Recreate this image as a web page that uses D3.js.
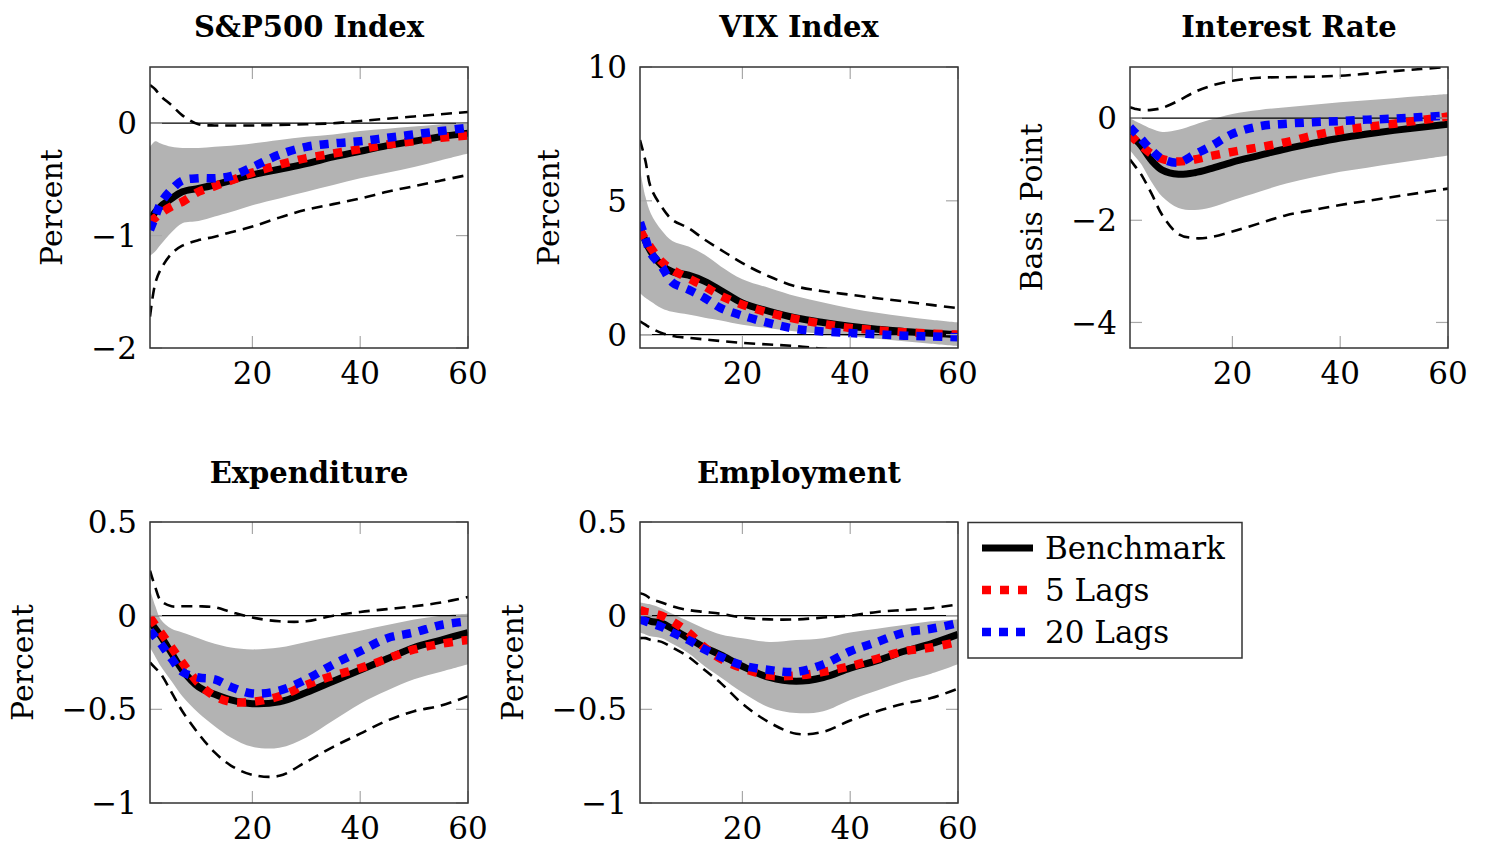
<!DOCTYPE html>
<html>
<head>
<meta charset="utf-8">
<script src="https://cdn.jsdelivr.net/npm/d3@7"></script>
<style>
  body { margin: 0; background: #fff; }
  svg text { font-family: 'DejaVu Serif', serif; fill: #000; }
</style>
</head>
<body>
<div id="chart"></div>
<script>
var horizon = [1, 2, 3, 5, 7, 10, 13, 16, 20, 25, 30, 35, 40, 45, 50, 55, 60];
var xTicks = [20, 40, 60];

var seriesNames = ["Benchmark", "5 Lags", "20 Lags"];

// S&P500 Index
var spBench  = [-0.86, -0.79, -0.74, -0.67, -0.61, -0.58, -0.55, -0.51, -0.46, -0.41, -0.36, -0.30, -0.25, -0.20, -0.16, -0.12, -0.09];
var spLag5   = [-0.88, -0.84, -0.80, -0.74, -0.70, -0.61, -0.56, -0.51, -0.44, -0.37, -0.31, -0.27, -0.23, -0.19, -0.16, -0.13, -0.11];
var spLag20  = [-0.95, -0.83, -0.71, -0.59, -0.51, -0.49, -0.49, -0.47, -0.39, -0.28, -0.21, -0.18, -0.16, -0.13, -0.10, -0.07, -0.04];
var spBandLo = [-1.18, -1.14, -1.08, -0.97, -0.89, -0.87, -0.83, -0.79, -0.73, -0.67, -0.61, -0.55, -0.49, -0.44, -0.39, -0.33, -0.27];
var spBandHi = [-0.21, -0.16, -0.18, -0.21, -0.22, -0.22, -0.21, -0.20, -0.18, -0.15, -0.12, -0.10, -0.07, -0.05, -0.03, -0.01, 0.01];
var spCiLo   = [-1.72, -1.42, -1.30, -1.16, -1.09, -1.04, -1.01, -0.97, -0.92, -0.84, -0.77, -0.72, -0.67, -0.61, -0.56, -0.51, -0.46];
var spCiHi   = [0.34, 0.30, 0.24, 0.16, 0.07, -0.01, -0.02, -0.02, -0.02, -0.015, -0.01, 0.00, 0.02, 0.04, 0.06, 0.08, 0.10];

// VIX Index
var vixBench  = [4.0, 3.5, 3.1, 2.6, 2.35, 2.22, 1.99, 1.65, 1.18, 0.87, 0.62, 0.45, 0.31, 0.20, 0.12, 0.05, 0.0];
var vixLag5   = [3.9, 3.55, 3.25, 2.73, 2.42, 2.1, 1.8, 1.45, 1.12, 0.81, 0.58, 0.40, 0.25, 0.16, 0.09, 0.04, 0.0];
var vixLag20  = [4.2, 3.6, 3.04, 2.55, 1.95, 1.68, 1.37, 0.99, 0.71, 0.43, 0.21, 0.12, 0.06, 0.01, -0.04, -0.07, -0.10];
var vixBandLo = [1.55, 1.38, 1.24, 0.99, 0.85, 0.75, 0.63, 0.53, 0.37, 0.24, 0.12, 0.03, -0.06, -0.15, -0.25, -0.34, -0.43];
var vixBandHi = [6.2, 5.16, 4.53, 3.9, 3.5, 3.29, 2.98, 2.55, 2.07, 1.74, 1.43, 1.20, 0.99, 0.82, 0.68, 0.56, 0.46];
var vixCiLo   = [0.5, 0.37, 0.25, 0.06, -0.05, -0.12, -0.18, -0.24, -0.31, -0.37, -0.43, -0.53, -0.60, -0.66, -0.72, -0.77, -0.82];
var vixCiHi   = [7.27, 6.5, 5.5, 4.78, 4.29, 3.98, 3.55, 3.17, 2.67, 2.17, 1.80, 1.62, 1.49, 1.36, 1.24, 1.11, 0.99];

// Interest Rate
var irBench  = [-0.31, -0.42, -0.53, -0.83, -1.02, -1.10, -1.07, -0.99, -0.86, -0.73, -0.60, -0.49, -0.39, -0.31, -0.24, -0.18, -0.12];
var irLag5   = [-0.34, -0.43, -0.53, -0.70, -0.80, -0.85, -0.81, -0.74, -0.66, -0.57, -0.47, -0.34, -0.24, -0.17, -0.11, -0.04, 0.03];
var irLag20  = [-0.18, -0.29, -0.40, -0.63, -0.80, -0.87, -0.71, -0.55, -0.31, -0.16, -0.11, -0.08, -0.06, -0.03, -0.01, 0.02, 0.05];
var irBandLo = [-0.63, -0.76, -0.89, -1.25, -1.54, -1.76, -1.80, -1.75, -1.61, -1.44, -1.28, -1.16, -1.05, -0.97, -0.89, -0.81, -0.73];
var irBandHi = [-0.01, -0.06, -0.11, -0.21, -0.27, -0.23, -0.13, -0.03, 0.08, 0.16, 0.21, 0.26, 0.31, 0.35, 0.39, 0.43, 0.47];
var irCiLo   = [-0.81, -0.95, -1.09, -1.48, -1.90, -2.27, -2.35, -2.33, -2.22, -2.06, -1.90, -1.80, -1.70, -1.62, -1.54, -1.46, -1.38];
var irCiHi   = [0.21, 0.18, 0.16, 0.16, 0.20, 0.34, 0.51, 0.63, 0.73, 0.79, 0.80, 0.81, 0.83, 0.87, 0.92, 0.96, 1.0];

// Expenditure
var expBench  = [-0.03, -0.07, -0.11, -0.20, -0.29, -0.38, -0.42, -0.45, -0.47, -0.46, -0.41, -0.35, -0.29, -0.23, -0.17, -0.13, -0.09];
var expLag5   = [-0.01, -0.05, -0.09, -0.17, -0.25, -0.36, -0.43, -0.46, -0.46, -0.43, -0.37, -0.32, -0.28, -0.23, -0.18, -0.15, -0.13];
var expLag20  = [-0.08, -0.115, -0.15, -0.23, -0.30, -0.33, -0.34, -0.38, -0.415, -0.40, -0.34, -0.26, -0.19, -0.12, -0.09, -0.05, -0.03];
var expBandLo = [-0.17, -0.22, -0.27, -0.35, -0.43, -0.52, -0.59, -0.65, -0.70, -0.705, -0.65, -0.56, -0.47, -0.40, -0.34, -0.30, -0.26];
var expBandHi = [0.14, 0.05, -0.02, -0.07, -0.09, -0.12, -0.15, -0.17, -0.18, -0.17, -0.14, -0.11, -0.08, -0.05, -0.02, 0.0, 0.01];
var expCiLo   = [-0.25, -0.28, -0.31, -0.41, -0.51, -0.63, -0.73, -0.80, -0.85, -0.855, -0.78, -0.70, -0.63, -0.56, -0.51, -0.48, -0.43];
var expCiHi   = [0.24, 0.15, 0.08, 0.05, 0.05, 0.05, 0.045, 0.02, -0.01, -0.03, -0.03, 0.0, 0.02, 0.035, 0.05, 0.07, 0.10];

// Employment
var empBench  = [-0.01, -0.02, -0.03, -0.04, -0.07, -0.12, -0.17, -0.21, -0.27, -0.33, -0.35, -0.33, -0.28, -0.24, -0.19, -0.15, -0.10];
var empLag5   = [0.03, 0.02, 0.015, 0.0, -0.03, -0.09, -0.17, -0.23, -0.28, -0.32, -0.32, -0.30, -0.27, -0.23, -0.19, -0.17, -0.14];
var empLag20  = [-0.02, -0.03, -0.04, -0.06, -0.09, -0.13, -0.18, -0.22, -0.265, -0.29, -0.30, -0.26, -0.19, -0.14, -0.09, -0.07, -0.04];
var empBandLo = [-0.09, -0.10, -0.11, -0.12, -0.15, -0.20, -0.27, -0.33, -0.41, -0.49, -0.52, -0.51, -0.45, -0.40, -0.35, -0.31, -0.26];
var empBandHi = [0.07, 0.065, 0.06, 0.04, 0.01, -0.03, -0.07, -0.10, -0.12, -0.14, -0.13, -0.12, -0.09, -0.07, -0.05, -0.03, -0.02];
var empCiLo   = [-0.12, -0.12, -0.13, -0.14, -0.17, -0.22, -0.29, -0.36, -0.47, -0.57, -0.63, -0.62, -0.56, -0.51, -0.47, -0.44, -0.39];
var empCiHi   = [0.12, 0.11, 0.09, 0.07, 0.05, 0.03, 0.02, 0.01, -0.01, -0.02, -0.02, -0.01, 0.0, 0.02, 0.03, 0.04, 0.06];

var panels = [
    { title: "S&P500 Index", ylabel: "Percent", left: 150, top: 67, titleDy: -30, ymin: -2, ymax: 0.5, yticks: [-2, -1, 0],
      bench: spBench, lag5: spLag5, lag20: spLag20, bandLo: spBandLo, bandHi: spBandHi, ciLo: spCiLo, ciHi: spCiHi },
    { title: "VIX Index", ylabel: "Percent", left: 640, top: 67, titleDy: -30, ymin: -0.5, ymax: 10, yticks: [0, 5, 10],
      bench: vixBench, lag5: vixLag5, lag20: vixLag20, bandLo: vixBandLo, bandHi: vixBandHi, ciLo: vixCiLo, ciHi: vixCiHi },
    { title: "Interest Rate", ylabel: "Basis Point", left: 1130, top: 67, titleDy: -30, ymin: -4.5, ymax: 1, yticks: [-4, -2, 0],
      bench: irBench, lag5: irLag5, lag20: irLag20, bandLo: irBandLo, bandHi: irBandHi, ciLo: irCiLo, ciHi: irCiHi },
    { title: "Expenditure", ylabel: "Percent", left: 150, top: 522, titleDy: -39, ymin: -1, ymax: 0.5, yticks: [-1, -0.5, 0, 0.5],
      bench: expBench, lag5: expLag5, lag20: expLag20, bandLo: expBandLo, bandHi: expBandHi, ciLo: expCiLo, ciHi: expCiHi },
    { title: "Employment", ylabel: "Percent", left: 640, top: 522, titleDy: -39, ymin: -1, ymax: 0.5, yticks: [-1, -0.5, 0, 0.5],
      bench: empBench, lag5: empLag5, lag20: empLag20, bandLo: empBandLo, bandHi: empBandHi, ciLo: empCiLo, ciHi: empCiHi }
];

var W = 1485, H = 846;
var pw = 318, ph = 281;
var tickLen = 12;
var tickColor = "#a8a8a8";
var curve = d3.curveCatmullRom.alpha(0.5);
var styles = [
    { color: "#000", width: 7, dash: null },
    { color: "#ff0000", width: 8.5, dash: "9 9" },
    { color: "#0000ff", width: 8.5, dash: "9 8" }
];

function fmt(v) {
    var s = String(Math.abs(v));
    return (v < 0 ? "\u2212" : "") + s;
}

var svg = d3.select("#chart").append("svg")
    .attr("width", W)
    .attr("height", H);

panels.forEach(function(p, i) {
    var x = d3.scaleLinear().domain([1, 60]).range([0, pw]);
    var y = d3.scaleLinear().domain([p.ymin, p.ymax]).range([ph, 0]);

    var g = svg.append("g").attr("transform", "translate(" + p.left + "," + p.top + ")");

    g.append("clipPath").attr("id", "clip" + i)
        .append("rect").attr("width", pw).attr("height", ph);

    var plot = g.append("g").attr("clip-path", "url(#clip" + i + ")");

    var area = d3.area()
        .x(function(d, j) { return x(horizon[j]); })
        .y0(function(d, j) { return y(p.bandLo[j]); })
        .y1(function(d, j) { return y(p.bandHi[j]); })
        .curve(curve);

    plot.append("path")
        .datum(horizon)
        .attr("d", area)
        .attr("fill", "#b3b3b3");

    var line = function(vals) {
        return d3.line()
            .x(function(d, j) { return x(horizon[j]); })
            .y(function(d) { return y(d); })
            .curve(curve)(vals);
    };

    [p.ciLo, p.ciHi].forEach(function(vals) {
        plot.append("path")
            .attr("d", line(vals))
            .attr("fill", "none")
            .attr("stroke", "#000")
            .attr("stroke-width", 2.6)
            .attr("stroke-dasharray", "11 7");
    });

    plot.append("line")
        .attr("x1", 0).attr("x2", pw)
        .attr("y1", y(0)).attr("y2", y(0))
        .attr("stroke", "#000")
        .attr("stroke-width", 1.2);

    [p.bench, p.lag5, p.lag20].forEach(function(vals, k) {
        plot.append("path")
            .attr("d", line(vals))
            .attr("fill", "none")
            .attr("stroke", styles[k].color)
            .attr("stroke-width", styles[k].width)
            .attr("stroke-dasharray", styles[k].dash);
    });

    // ticks, inside on all four sides
    var tk = g.append("g").attr("stroke", tickColor).attr("stroke-width", 1.2);
    xTicks.forEach(function(t) {
        tk.append("line").attr("x1", x(t)).attr("x2", x(t)).attr("y1", ph).attr("y2", ph - tickLen);
        tk.append("line").attr("x1", x(t)).attr("x2", x(t)).attr("y1", 0).attr("y2", tickLen);
    });
    p.yticks.forEach(function(t) {
        tk.append("line").attr("x1", 0).attr("x2", tickLen).attr("y1", y(t)).attr("y2", y(t));
        tk.append("line").attr("x1", pw).attr("x2", pw - tickLen).attr("y1", y(t)).attr("y2", y(t));
    });

    g.append("rect")
        .attr("width", pw).attr("height", ph)
        .attr("fill", "none")
        .attr("stroke", "#333")
        .attr("stroke-width", 1.5);

    g.selectAll(".xt").data(xTicks).enter().append("text")
        .attr("x", function(d) { return x(d); })
        .attr("y", ph + 36)
        .attr("text-anchor", "middle")
        .style("font-size", "31px")
        .text(function(d) { return d; });

    var yl = g.append("g");
    yl.selectAll("text").data(p.yticks).enter().append("text")
        .attr("x", -13)
        .attr("y", function(d) { return y(d); })
        .attr("dy", "0.36em")
        .attr("text-anchor", "end")
        .style("font-size", "31px")
        .text(fmt);

    var minX = yl.node().getBBox().x;

    g.append("text")
        .attr("transform", "translate(" + (minX - 29) + "," + ph / 2 + ")rotate(-90)")
        .attr("text-anchor", "middle")
        .style("font-size", "30px")
        .text(p.ylabel);

    g.append("text")
        .attr("x", pw / 2)
        .attr("y", p.titleDy)
        .attr("text-anchor", "middle")
        .style("font-size", "29px")
        .style("font-weight", "bold")
        .text(p.title);
});

// legend
var lg = svg.append("g").attr("transform", "translate(968,522.5)");
lg.append("rect")
    .attr("width", 274).attr("height", 135.5)
    .attr("fill", "#fff")
    .attr("stroke", "#333")
    .attr("stroke-width", 1.5);

seriesNames.forEach(function(name, k) {
    var yy = 25.5 + k * 42;
    lg.append("line")
        .attr("x1", 14).attr("x2", 65)
        .attr("y1", yy).attr("y2", yy)
        .attr("stroke", styles[k].color)
        .attr("stroke-width", styles[k].width)
        .attr("stroke-dasharray", styles[k].dash);
    lg.append("text")
        .attr("x", 77)
        .attr("y", yy + 11)
        .style("font-size", "31px")
        .text(name);
});
</script>
</body>
</html>
